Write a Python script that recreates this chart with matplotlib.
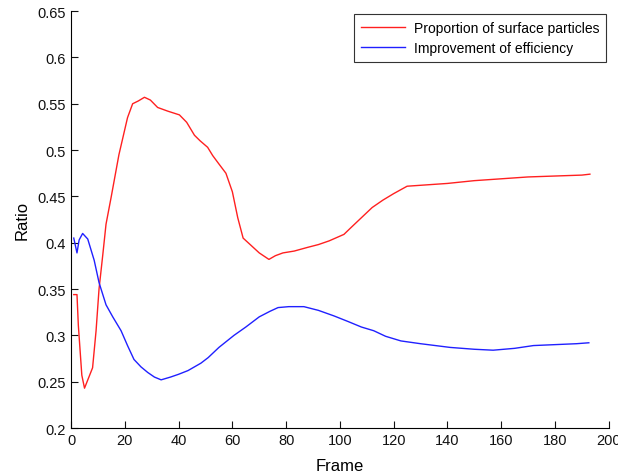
import matplotlib
matplotlib.use('Agg')
import matplotlib.pyplot as plt

plt.rcParams['font.family'] = ['Liberation Sans', 'DejaVu Sans']

# Proportion of surface particles per frame
frame_surface = [1, 2.2, 2.7, 4, 5, 8, 9.3, 10.4, 11.8, 13, 14.9, 17.8, 21, 22.9, 25, 27.3,
                 29.5, 32.2, 36, 40.3, 43, 45.9, 48, 50.8, 52.7, 55, 57.6, 60, 62, 64,
                 67, 70, 73.6, 76, 78.8, 83, 88, 92, 96, 101.5, 104, 108, 112, 116, 120,
                 125, 130, 140, 150, 160, 170, 180, 190, 193]
surface = [0.344, 0.344, 0.311, 0.257, 0.243, 0.265, 0.305, 0.350, 0.387, 0.420, 0.449,
           0.495, 0.535, 0.550, 0.553, 0.557, 0.554, 0.546, 0.542, 0.538, 0.530, 0.516,
           0.510, 0.503, 0.494, 0.485, 0.475, 0.455, 0.427, 0.405, 0.397, 0.389, 0.382,
           0.386, 0.389, 0.391, 0.395, 0.398, 0.402, 0.409, 0.416, 0.427, 0.438, 0.446,
           0.453, 0.461, 0.462, 0.464, 0.467, 0.469, 0.471, 0.472, 0.473, 0.474]

# Improvement of efficiency per frame
frame_eff = [1, 2.2, 3, 4.3, 6.2, 8.6, 10.4, 13, 15.5, 18.6, 21, 23.4, 26, 28.5, 31, 33.5,
             37, 40, 43.5, 48.3, 51, 55, 60.6, 65, 70, 74, 77, 81, 86.6, 92, 97.8, 103,
             108, 112.6, 117, 122.7, 130, 141, 150, 157, 165, 172, 180, 188, 192.6]
efficiency = [0.405, 0.389, 0.403, 0.410, 0.404, 0.381, 0.357, 0.333, 0.320, 0.305, 0.289,
              0.274, 0.266, 0.260, 0.255, 0.252, 0.255, 0.258, 0.262, 0.270, 0.276, 0.287,
              0.300, 0.309, 0.320, 0.326, 0.330, 0.331, 0.331, 0.327, 0.321, 0.315, 0.309,
              0.305, 0.299, 0.294, 0.291, 0.287, 0.285, 0.284, 0.286, 0.289, 0.290, 0.291,
              0.292]

fig = plt.figure(figsize=(6.18, 4.77), dpi=100)
ax = fig.add_axes([0.115, 0.1006, 0.87, 0.874])

ax.plot(frame_surface, surface, color='#ff2020', lw=1.0, label='Proportion of surface particles')
ax.plot(frame_eff, efficiency, color='#2020ff', lw=1.0, label='Improvement of efficiency')

ax.set_xlim(0, 200)
ax.set_ylim(0.2, 0.65)
ax.set_xticks(range(0, 201, 20))
ax.set_yticks([0.2, 0.25, 0.3, 0.35, 0.4, 0.45, 0.5, 0.55, 0.6, 0.65])
ax.set_yticklabels(['0.2', '0.25', '0.3', '0.35', '0.4', '0.45', '0.5', '0.55', '0.6', '0.65'])
ax.spines['top'].set_visible(False)
ax.spines['right'].set_visible(False)
ax.tick_params(direction='in', length=5, labelsize=10.5, colors='#111111')
ax.set_xlabel('Frame', fontsize=12, labelpad=8)
ax.set_ylabel('Ratio', fontsize=12, labelpad=6)

leg = ax.legend(loc='upper right', bbox_to_anchor=(1.0, 1.0), fontsize=10, fancybox=False,
                framealpha=1, edgecolor='#333333', borderaxespad=0.2, handlelength=3.2,
                handletextpad=0.6, labelspacing=0.45, borderpad=0.5)
leg.get_frame().set_linewidth(0.8)

fig.savefig('out.png', dpi=100)
